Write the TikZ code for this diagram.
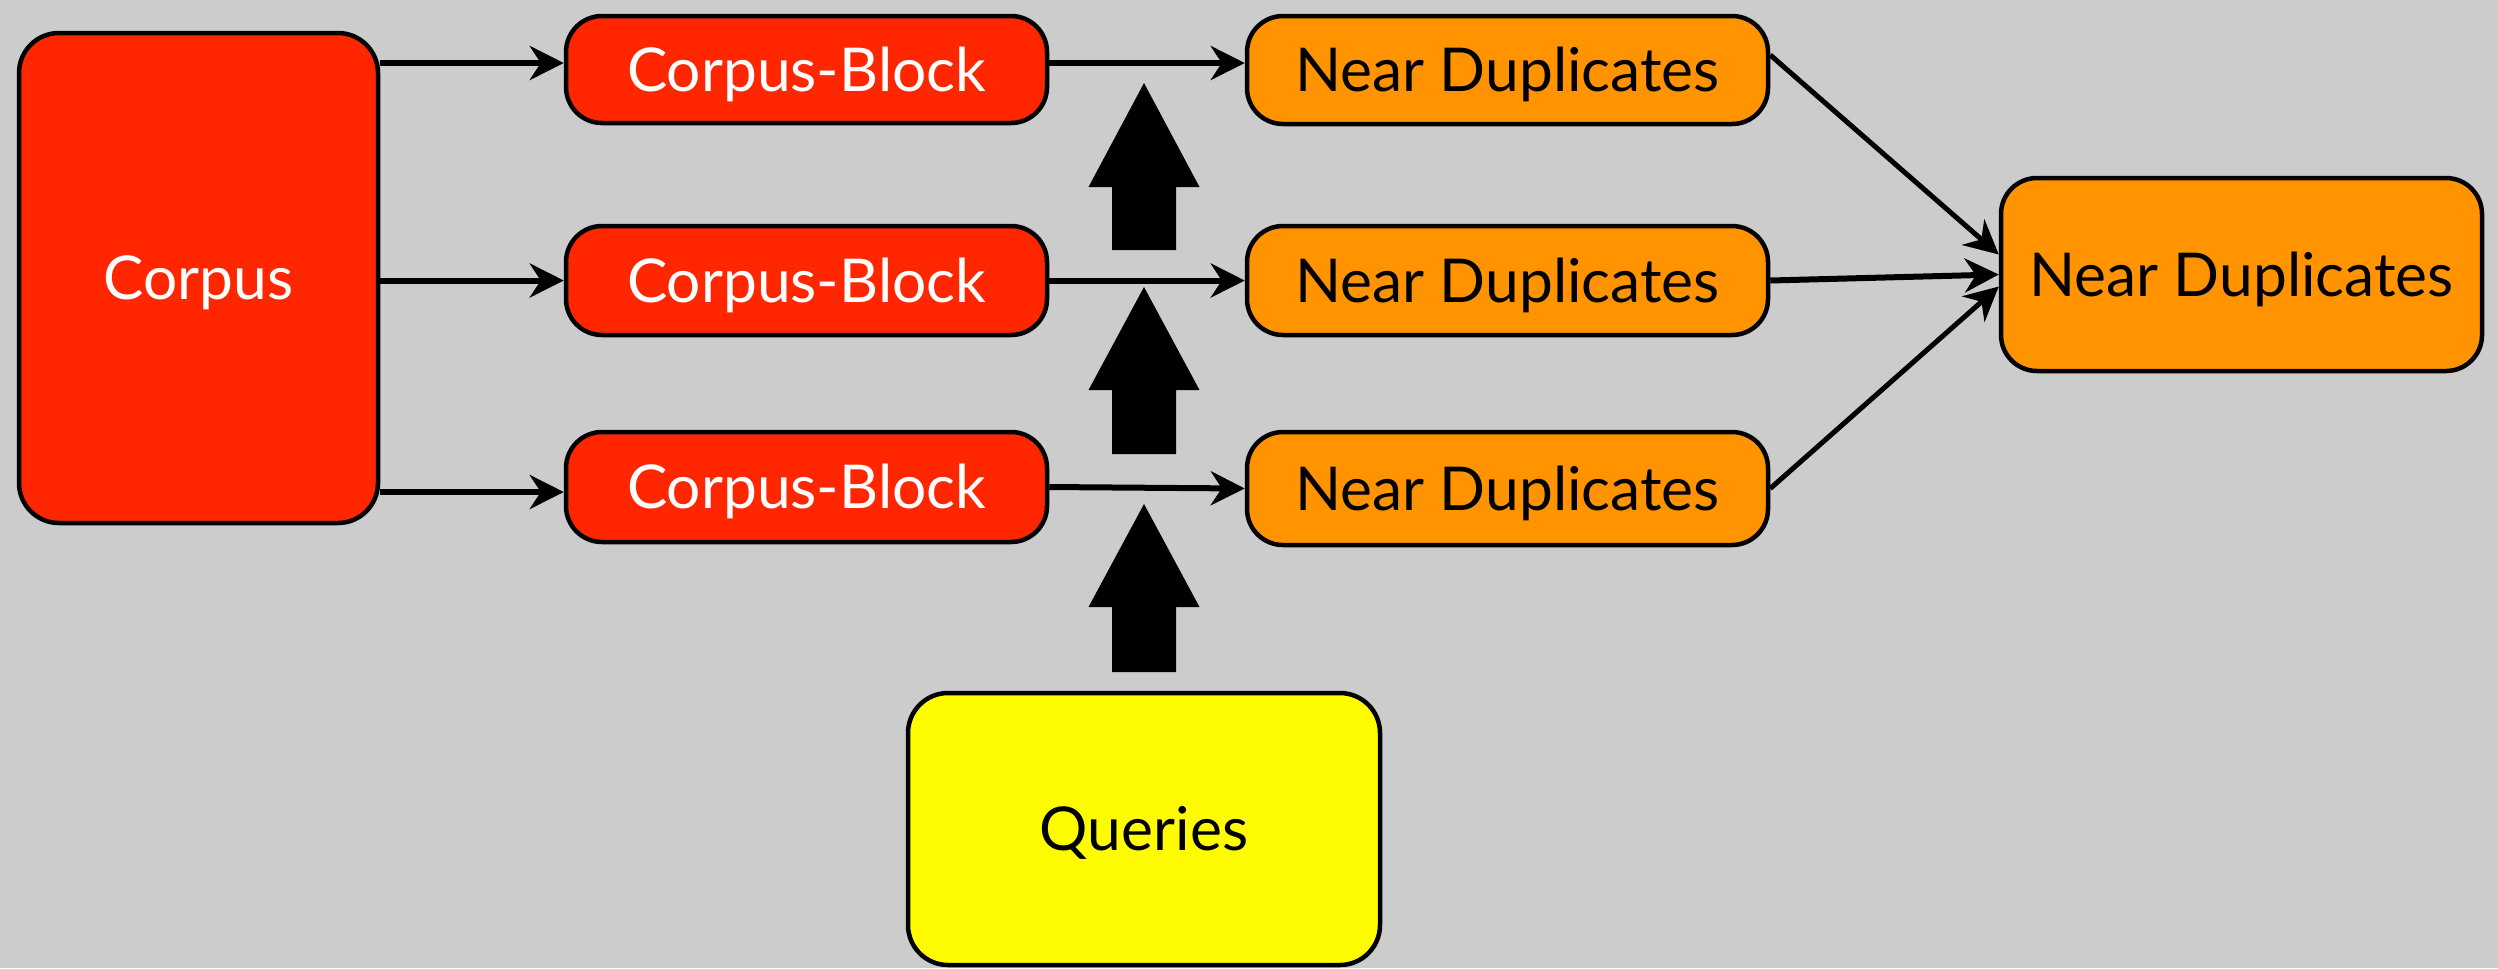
\documentclass[tikz,border=0pt]{standalone}
\usepackage{fontspec}
\setmainfont{Lato}
\usetikzlibrary{arrows.meta}
\definecolor{bg}{RGB}{204,204,204}
\definecolor{kred}{RGB}{255,38,0}
\definecolor{korange}{RGB}{255,147,0}
\definecolor{kyellow}{RGB}{255,251,0}
\tikzset{
  box/.style={draw=black, line width=0.45mm, rounded corners=3.6mm, inner sep=0pt,
    text height=4.3mm, text depth=0pt, font=\fontsize{17.2}{20}\selectfont},
  redbox/.style={box, fill=kred, text=white},
  orbox/.style={box, fill=korange, text=black},
  yelbox/.style={box, fill=kyellow, text=black},
  conn/.style={line width=0.6mm, -{Stealth[length=3.4mm, width=3.4mm, inset=1.1mm]}},
  dconn/.style={conn, line width=0.5mm}
}
\begin{document}
\begin{tikzpicture}[x=0.1mm, y=-0.1mm]
\fill[bg] (0,0) rectangle (2498,968);
\useasboundingbox (0,0) rectangle (2498,968);

\node[redbox, minimum width=35.9mm, minimum height=49mm, rounded corners=4mm] (corpus) at (198.5,278) {Corpus};
\node[redbox, minimum width=48.1mm, minimum height=10.7mm] (cb1) at (806.5,69.5) {Corpus-Block};
\node[redbox, minimum width=48.1mm, minimum height=10.9mm] (cb2) at (806.5,280.5) {Corpus-Block};
\node[redbox, minimum width=48.1mm, minimum height=11mm] (cb3) at (806.5,487) {Corpus-Block};

\node[orbox, minimum width=52.1mm, minimum height=10.8mm] (nd1) at (1507.5,70) {Near Duplicates};
\node[orbox, minimum width=52.1mm, minimum height=10.9mm] (nd2) at (1507.5,280.5) {Near Duplicates};
\node[orbox, minimum width=52.1mm, minimum height=11.3mm] (nd3) at (1507.5,488.5) {Near Duplicates};

\node[orbox, minimum width=48.1mm, minimum height=19.3mm] (final) at (2241.5,274.5) {Near Duplicates};

\node[yelbox, minimum width=47.2mm, minimum height=27.2mm, rounded corners=4mm] (queries) at (1144,829) {Queries};

% connectors
\draw[conn] (corpus.east |- 0,63) -- (cb1.west |- 0,63);
\draw[conn] (corpus.east |- cb2.west) -- (cb2.west);
\draw[conn] (corpus.east |- 0,492) -- (cb3.west |- 0,492);
\draw[conn] (cb1.east |- 0,63) -- (nd1.west |- 0,63);
\draw[conn] (cb2.east) -- (nd2.west);
\draw[conn] (cb3.east) -- (nd3.west);

\draw[dconn] ([yshift=1.5mm]nd1.east) -- ([yshift=2mm]final.west);
\draw[conn] (nd2.east) -- (final.west);
\draw[dconn] (nd3.east) -- ([yshift=-1.2mm]final.west);

% block arrows
\foreach \t/\b/\e in {83/187/250, 287/390/454, 504/607/672}{
  \fill[black] (1144,\t) -- (1199.5,\b) -- (1176,\b) -- (1176,\e) -- (1112,\e) -- (1112,\b) -- (1088.5,\b) -- cycle;
}
\end{tikzpicture}
\end{document}
